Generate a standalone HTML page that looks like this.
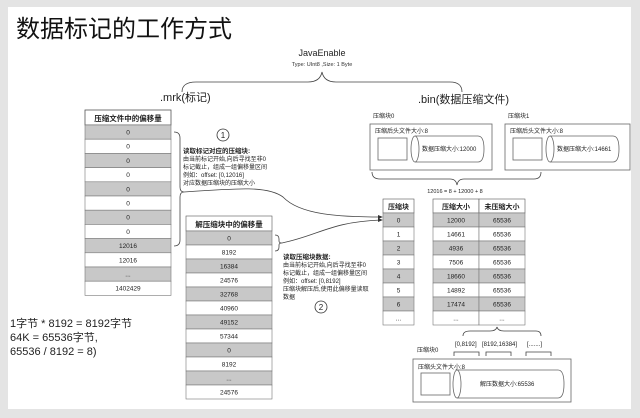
<!DOCTYPE html>
<html><head><meta charset="utf-8"><style>
html,body{margin:0;padding:0;background:#e6e6e6;}
svg{display:block;}
text{font-family:"Liberation Sans","Noto Sans CJK SC",sans-serif;}
</style></head><body>
<svg width="640" height="418" viewBox="0 0 640 418" xmlns="http://www.w3.org/2000/svg">
<rect x="0" y="0" width="640" height="418" fill="#e4e4e4"/>
<rect x="8" y="7" width="623" height="402" fill="#fff"/>
<text x="16" y="37" font-size="24" fill="#111">数据标记的工作方式</text>

<text x="322" y="56" font-size="9" text-anchor="middle" fill="#222">JavaEnable</text>
<text x="322" y="66" font-size="5.5" text-anchor="middle" fill="#333">Type: UInt8 ,Size: 1 Byte</text>
<path d="M182 92 Q182 82 196 82 L308 82 Q320 82 322 72 Q324 82 336 82 L450 82 Q462 82 462 92" fill="none" stroke="#444" stroke-width="0.8"/>
<text x="160" y="101" font-size="11" fill="#222">.mrk(标记)</text>
<text x="418" y="103" font-size="11" fill="#222">.bin(数据压缩文件)</text>

<g font-size="6.5" text-anchor="middle" fill="#222">
<rect x="85" y="110" width="86" height="15" fill="#fff" stroke="#555" stroke-width="0.8"/>
<text x="128" y="121" font-weight="bold" font-size="7.5">压缩文件中的偏移量</text>
</g>
<g font-size="6.5" text-anchor="middle" fill="#222" stroke-width="0.6">
<rect x="85" y="125" width="86" height="14.2" fill="#c8c8c8" stroke="#777"/><text x="128" y="134.5">0</text>
<rect x="85" y="139.2" width="86" height="14.2" fill="#fff" stroke="#777"/><text x="128" y="148.7">0</text>
<rect x="85" y="153.4" width="86" height="14.2" fill="#c8c8c8" stroke="#777"/><text x="128" y="162.9">0</text>
<rect x="85" y="167.6" width="86" height="14.2" fill="#fff" stroke="#777"/><text x="128" y="177.1">0</text>
<rect x="85" y="181.8" width="86" height="14.2" fill="#c8c8c8" stroke="#777"/><text x="128" y="191.3">0</text>
<rect x="85" y="196" width="86" height="14.2" fill="#fff" stroke="#777"/><text x="128" y="205.5">0</text>
<rect x="85" y="210.2" width="86" height="14.2" fill="#c8c8c8" stroke="#777"/><text x="128" y="219.7">0</text>
<rect x="85" y="224.4" width="86" height="14.2" fill="#fff" stroke="#777"/><text x="128" y="233.9">0</text>
<rect x="85" y="238.6" width="86" height="14.2" fill="#c8c8c8" stroke="#777"/><text x="128" y="248.1">12016</text>
<rect x="85" y="252.8" width="86" height="14.2" fill="#fff" stroke="#777"/><text x="128" y="262.3">12016</text>
<rect x="85" y="267" width="86" height="14.2" fill="#c8c8c8" stroke="#777"/><text x="128" y="276.5">...</text>
<rect x="85" y="281.2" width="86" height="14.2" fill="#fff" stroke="#777"/><text x="128" y="290.7">1402429</text>
</g>

<g font-size="6.5" text-anchor="middle" fill="#222" stroke-width="0.6">
<rect x="186" y="216" width="86" height="15" fill="#fff" stroke="#555"/>
<text x="229" y="227" font-weight="bold" font-size="7.5">解压缩块中的偏移量</text>
<rect x="186" y="231" width="86" height="14" fill="#c8c8c8" stroke="#777"/><text x="229" y="240.5">0</text>
<rect x="186" y="245" width="86" height="14" fill="#fff" stroke="#777"/><text x="229" y="254.5">8192</text>
<rect x="186" y="259" width="86" height="14" fill="#c8c8c8" stroke="#777"/><text x="229" y="268.5">16384</text>
<rect x="186" y="273" width="86" height="14" fill="#fff" stroke="#777"/><text x="229" y="282.5">24576</text>
<rect x="186" y="287" width="86" height="14" fill="#c8c8c8" stroke="#777"/><text x="229" y="296.5">32768</text>
<rect x="186" y="301" width="86" height="14" fill="#fff" stroke="#777"/><text x="229" y="310.5">40960</text>
<rect x="186" y="315" width="86" height="14" fill="#c8c8c8" stroke="#777"/><text x="229" y="324.5">49152</text>
<rect x="186" y="329" width="86" height="14" fill="#fff" stroke="#777"/><text x="229" y="338.5">57344</text>
<rect x="186" y="343" width="86" height="14" fill="#c8c8c8" stroke="#777"/><text x="229" y="352.5">0</text>
<rect x="186" y="357" width="86" height="14" fill="#fff" stroke="#777"/><text x="229" y="366.5">8192</text>
<rect x="186" y="371" width="86" height="14" fill="#c8c8c8" stroke="#777"/><text x="229" y="380.5">...</text>
<rect x="186" y="385" width="86" height="14" fill="#fff" stroke="#777"/><text x="229" y="394.5">24576</text>
</g>

<path d="M174 132 Q180 132 180 138 L180 187 Q180 192 184 192 Q180 192 180 197 L180 240 Q180 246 174 246" fill="none" stroke="#444" stroke-width="0.8"/>
<path d="M184 192 C240 188 268 186 283 197 C300 215 340 217 381 217" fill="none" stroke="#444" stroke-width="0.8"/>
<path d="M275 235 Q279 235 279 239 L279 241 Q279 243 282 243 Q279 243 279 245 L279 247 Q279 251 275 251" fill="none" stroke="#444" stroke-width="0.8"/>
<path d="M282 243 C320 235 330 222 381 220" fill="none" stroke="#444" stroke-width="0.8"/>
<polygon points="383,217 378,215 378,219" fill="#333"/>
<polygon points="383,220 378,218 378,222" fill="#333"/>

<circle cx="223" cy="135" r="6" fill="none" stroke="#333" stroke-width="0.8"/>
<text x="223" y="138" font-size="8" text-anchor="middle" fill="#222">1</text>
<g font-size="6" fill="#222">
<text x="183" y="153" font-weight="bold" font-size="6.5">读取标记对应的压缩块:</text>
<text x="183" y="161">由当前标记开始,向后寻找至非0</text>
<text x="183" y="169">标记截止，组成一组偏移量区间</text>
<text x="183" y="177">例如：offset: [0,12016]</text>
<text x="183" y="185">对应数据压缩块的压缩大小</text>
</g>
<g font-size="6" fill="#222">
<text x="283" y="259" font-weight="bold" font-size="6.5">读取压缩块数据:</text>
<text x="283" y="267">由当前标记开始,向后寻找至非0</text>
<text x="283" y="275">标记截止，组成一组偏移量区间</text>
<text x="283" y="283">例如：offset: [0,8192]</text>
<text x="283" y="291">压缩块解压后,使用此偏移量读取</text>
<text x="283" y="299">数据</text>
</g>
<circle cx="321" cy="307" r="6" fill="none" stroke="#333" stroke-width="0.8"/>
<text x="321" y="310" font-size="8" text-anchor="middle" fill="#222">2</text>

<g font-size="11" fill="#222">
<text x="10" y="327">1字节 * 8192 = 8192字节</text>
<text x="10" y="341">64K = 65536字节,</text>
<text x="10" y="355">65536 / 8192 = 8)</text>
</g>

<g font-size="6" fill="#222" stroke-width="0.8">
<text x="373" y="118">压缩块0</text>
<rect x="370" y="124" width="122" height="46" fill="#fff" stroke="#666"/>
<text x="375" y="133">压缩后头文件大小:8</text>
<rect x="378" y="138" width="29" height="22" fill="#fff" stroke="#666"/>
<path d="M415 136 L478 136 Q484 136 484 149 Q484 162 478 162 L415 162" fill="none" stroke="#666"/>
<ellipse cx="415" cy="149" rx="4" ry="13" fill="#fff" stroke="#666"/>
<text x="422" y="151">数据压缩大小:12000</text>

<text x="508" y="118">压缩块1</text>
<rect x="505" y="124" width="125" height="46" fill="#fff" stroke="#666"/>
<text x="510" y="133">压缩后头文件大小:8</text>
<rect x="513" y="138" width="29" height="22" fill="#fff" stroke="#666"/>
<path d="M550 136 L613 136 Q619 136 619 149 Q619 162 613 162 L550 162" fill="none" stroke="#666"/>
<ellipse cx="550" cy="149" rx="4" ry="13" fill="#fff" stroke="#666"/>
<text x="557" y="151">数据压缩大小:14661</text>
</g>
<path d="M372 172 Q372 179 380 179 L450 179 Q456 179 457 185 Q458 179 464 179 L534 179 Q541 179 541 172" fill="none" stroke="#444" stroke-width="0.8"/>
<text x="455" y="193" font-size="5.5" text-anchor="middle" fill="#222">12016 = 8 + 12000 + 8</text>

<g font-size="6.5" text-anchor="middle" fill="#222" stroke-width="0.6">
<rect x="383" y="199" width="31" height="14" fill="#fff" stroke="#555"/><text x="398.5" y="209" font-weight="bold" font-size="7">压缩块</text>
<rect x="433" y="199" width="46" height="14" fill="#fff" stroke="#555"/><text x="456" y="209" font-weight="bold" font-size="7">压缩大小</text>
<rect x="479" y="199" width="46" height="14" fill="#fff" stroke="#555"/><text x="502" y="209" font-weight="bold" font-size="7">未压缩大小</text>

<rect x="383" y="213" width="31" height="14" fill="#c8c8c8" stroke="#777"/><text x="398.5" y="222.5">0</text>
<rect x="383" y="227" width="31" height="14" fill="#fff" stroke="#777"/><text x="398.5" y="236.5">1</text>
<rect x="383" y="241" width="31" height="14" fill="#c8c8c8" stroke="#777"/><text x="398.5" y="250.5">2</text>
<rect x="383" y="255" width="31" height="14" fill="#fff" stroke="#777"/><text x="398.5" y="264.5">3</text>
<rect x="383" y="269" width="31" height="14" fill="#c8c8c8" stroke="#777"/><text x="398.5" y="278.5">4</text>
<rect x="383" y="283" width="31" height="14" fill="#fff" stroke="#777"/><text x="398.5" y="292.5">5</text>
<rect x="383" y="297" width="31" height="14" fill="#c8c8c8" stroke="#777"/><text x="398.5" y="306.5">6</text>
<rect x="383" y="311" width="31" height="14" fill="#fff" stroke="#777"/><text x="398.5" y="320.5">...</text>

<rect x="433" y="213" width="46" height="14" fill="#c8c8c8" stroke="#777"/><text x="456" y="222.5">12000</text>
<rect x="479" y="213" width="46" height="14" fill="#c8c8c8" stroke="#777"/><text x="502" y="222.5">65536</text>
<rect x="433" y="227" width="46" height="14" fill="#fff" stroke="#777"/><text x="456" y="236.5">14661</text>
<rect x="479" y="227" width="46" height="14" fill="#fff" stroke="#777"/><text x="502" y="236.5">65536</text>
<rect x="433" y="241" width="46" height="14" fill="#c8c8c8" stroke="#777"/><text x="456" y="250.5">4936</text>
<rect x="479" y="241" width="46" height="14" fill="#c8c8c8" stroke="#777"/><text x="502" y="250.5">65536</text>
<rect x="433" y="255" width="46" height="14" fill="#fff" stroke="#777"/><text x="456" y="264.5">7506</text>
<rect x="479" y="255" width="46" height="14" fill="#fff" stroke="#777"/><text x="502" y="264.5">65536</text>
<rect x="433" y="269" width="46" height="14" fill="#c8c8c8" stroke="#777"/><text x="456" y="278.5">18660</text>
<rect x="479" y="269" width="46" height="14" fill="#c8c8c8" stroke="#777"/><text x="502" y="278.5">65536</text>
<rect x="433" y="283" width="46" height="14" fill="#fff" stroke="#777"/><text x="456" y="292.5">14892</text>
<rect x="479" y="283" width="46" height="14" fill="#fff" stroke="#777"/><text x="502" y="292.5">65536</text>
<rect x="433" y="297" width="46" height="14" fill="#c8c8c8" stroke="#777"/><text x="456" y="306.5">17474</text>
<rect x="479" y="297" width="46" height="14" fill="#c8c8c8" stroke="#777"/><text x="502" y="306.5">65536</text>
<rect x="433" y="311" width="46" height="14" fill="#fff" stroke="#777"/><text x="456" y="320.5">...</text>
<rect x="479" y="311" width="46" height="14" fill="#fff" stroke="#777"/><text x="502" y="320.5">...</text>
</g>

<path d="M463 336 Q463 331 470 331 L490 331 Q496 331 497 327 Q498 331 504 331 L536 331 Q541 331 541 336" fill="none" stroke="#444" stroke-width="0.8"/>
<g font-size="6" fill="#222" stroke-width="0.8">
<text x="455" y="346">[0,8192]</text>
<text x="482" y="346">[8192,16384]</text>
<text x="527" y="346">[.......]</text>
<path d="M454 356 L454 352 L479 352 L479 356 M486 356 L486 352 L511 352 L511 356 M526 356 L526 352 L551 352 L551 356" fill="none" stroke="#444"/>
<text x="417" y="352">压缩块0</text>
<rect x="413" y="359" width="158" height="43" fill="#fff" stroke="#666"/>
<text x="418" y="369">压缩头文件大小:8</text>
<rect x="421" y="373" width="29" height="22" fill="#fff" stroke="#666"/>
<path d="M457 370 L558 370 Q564 370 564 384 Q564 398 558 398 L457 398" fill="none" stroke="#666"/>
<ellipse cx="457" cy="384" rx="4" ry="14" fill="#fff" stroke="#666"/>
<text x="480" y="386">解压数据大小:65536</text>
</g>
</svg>
</body></html>
